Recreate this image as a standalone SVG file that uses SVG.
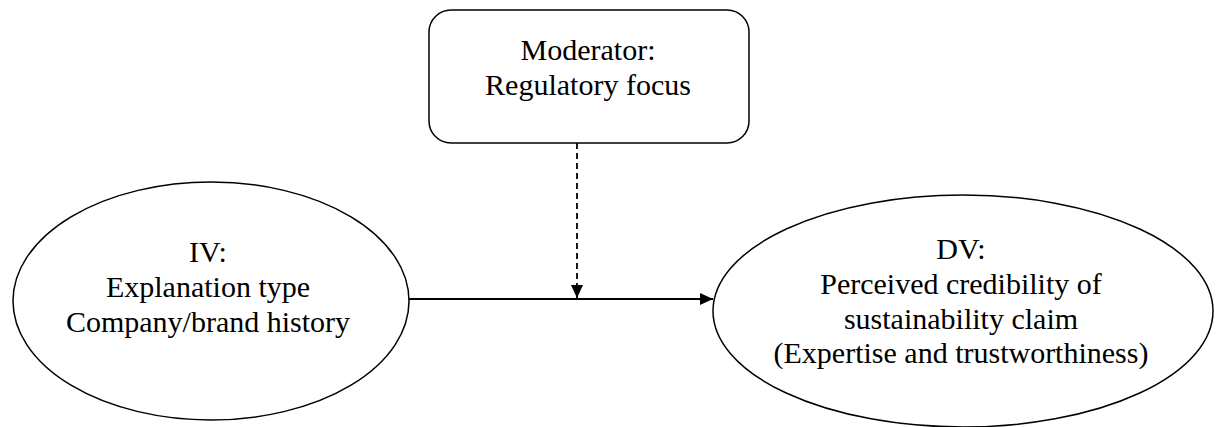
<svg xmlns="http://www.w3.org/2000/svg" width="1222" height="427" viewBox="0 0 1222 427">
<style>
.shape{fill:#fff;stroke:#000;stroke-width:1.5}
.lbl{font-family:'Liberation Serif','Times New Roman','DejaVu Serif',serif;font-size:30px;fill:#000;text-anchor:middle}
.conn{stroke:#000;stroke-width:1.8;fill:none}
</style>
<defs>
<marker id="ah" markerWidth="14" markerHeight="14" refX="13" refY="7" orient="auto" markerUnits="userSpaceOnUse">
<path d="M0,1 L13,7 L0,13 Z" fill="#000"/>
</marker>
</defs>
<g id="moderator">
<rect class="shape" x="429" y="10" width="320" height="133" rx="22" ry="22"/>
<text class="lbl" x="588" y="60">Moderator:</text>
<text class="lbl" x="588" y="95">Regulatory focus</text>
</g>
<g id="iv">
<ellipse class="shape" cx="211" cy="301" rx="198" ry="119"/>
<text class="lbl" x="208" y="262">IV:</text>
<text class="lbl" x="208" y="297">Explanation type</text>
<text class="lbl" x="208" y="332">Company/brand history</text>
</g>
<g id="dv">
<ellipse class="shape" cx="963" cy="311" rx="250" ry="116"/>
<text class="lbl" x="961" y="259">DV:</text>
<text class="lbl" x="961" y="294">Perceived credibility of</text>
<text class="lbl" x="961" y="329">sustainability claim</text>
<text class="lbl" x="961" y="363">(Expertise and trustworthiness)</text>
</g>
<g id="connectors">
<line class="conn" x1="409" y1="299" x2="713" y2="299" marker-end="url(#ah)"/>
<line class="conn" x1="577" y1="143" x2="577" y2="298" stroke-dasharray="6,4" marker-end="url(#ah)"/>
</g>
</svg>
